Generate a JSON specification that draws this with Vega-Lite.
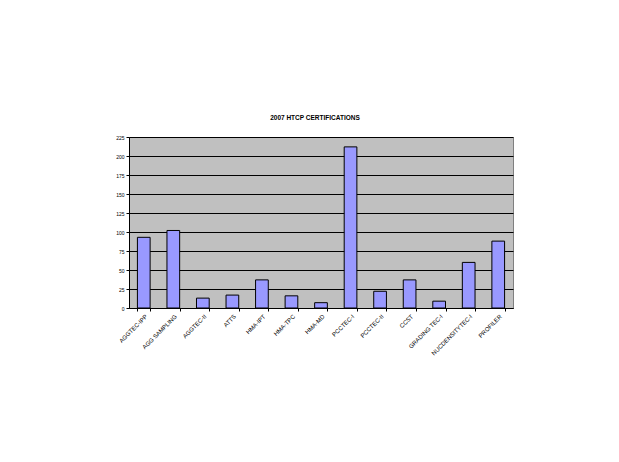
{
  "$schema": "https://vega.github.io/schema/vega-lite/v6.json",
  "autosize": {"type": "none"},
  "padding": {"left": 129, "top": 137, "right": 106, "bottom": 154},
  "width": 384,
  "height": 171,
  "background": "white",
  "title": {
    "text": "2007 HTCP CERTIFICATIONS",
    "font": "Liberation Sans",
    "fontSize": 6.5,
    "fontWeight": "bold",
    "color": "black",
    "anchor": "middle",
    "offset": 14,
    "dx": -6
  },
  "data": {
    "values": [
      {"cert": "AGGTEC-IPP", "count": 93},
      {"cert": "AGG SAMPLING", "count": 102},
      {"cert": "AGGTEC-II", "count": 13},
      {"cert": "ATTS", "count": 17},
      {"cert": "HMA-IPT", "count": 37},
      {"cert": "HMA-TPC", "count": 16},
      {"cert": "HMA-MD", "count": 7},
      {"cert": "PCCTEC-I", "count": 212},
      {"cert": "PCCTEC-II", "count": 22},
      {"cert": "CCST", "count": 37},
      {"cert": "GRADING TEC-I", "count": 9},
      {"cert": "NUCDENSITYTEC-I", "count": 60},
      {"cert": "PROFILER", "count": 88}
    ]
  },
  "mark": {"type": "bar", "color": "#9999ff", "stroke": "black", "strokeWidth": 1},
  "encoding": {
    "x": {
      "field": "cert",
      "type": "nominal",
      "sort": null,
      "scale": {"paddingInner": 0.57, "paddingOuter": 0.285},
      "axis": {
        "title": null,
        "labelAngle": -45,
        "labelFont": "Liberation Sans",
        "labelFontSize": 6,
        "labelColor": "black",
        "tickBand": "extent",
        "tickSize": 3,
        "tickColor": "black",
        "domainColor": "black",
        "labelPadding": 2,
        "grid": false
      }
    },
    "y": {
      "field": "count",
      "type": "quantitative",
      "scale": {"domain": [0, 225], "nice": false},
      "axis": {
        "title": null,
        "values": [0, 25, 50, 75, 100, 125, 150, 175, 200, 225],
        "labelFont": "Liberation Sans",
        "labelFontSize": 5,
        "labelColor": "black",
        "tickSize": 3,
        "tickColor": "black",
        "domainColor": "black",
        "labelPadding": 2,
        "grid": true,
        "gridColor": "black",
        "gridWidth": 1,
        "gridOpacity": 1
      }
    }
  },
  "config": {
    "view": {"fill": "#c0c0c0", "stroke": "#808080", "strokeWidth": 1}
  }
}
